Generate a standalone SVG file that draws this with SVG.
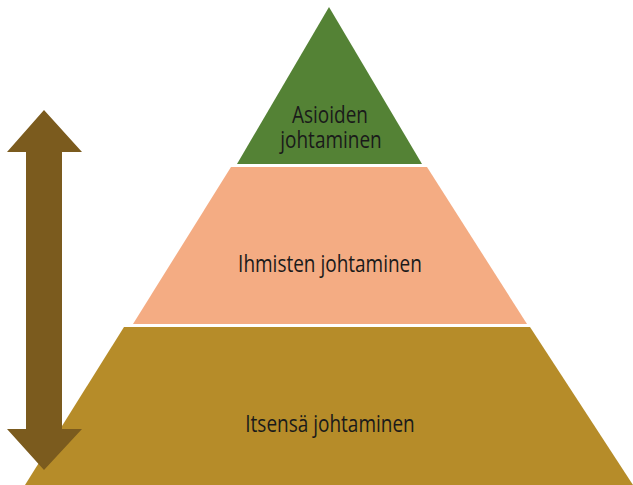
<svg xmlns="http://www.w3.org/2000/svg" width="633" height="485" viewBox="0 0 633 485">
  <style>
    .label { font-family: "Open Sans", "Liberation Sans", sans-serif; font-size: 19px; fill: #1a1a1a; text-anchor: middle; }
  </style>
  <rect width="633" height="485" fill="#ffffff"/>
  <!-- pyramid tiers; labels are stretched vertically for a tall, narrow look -->
  <g id="tier-top">
    <polygon points="329,7 422,164 237,164" fill="#548235"/>
    <text class="label" transform="translate(330,123) scale(1,1.2)">Asioiden</text>
    <text class="label" transform="translate(331,148) scale(1,1.2)">johtaminen</text>
  </g>
  <g id="tier-middle">
    <polygon points="231,167 427,167 527,324 133,324" fill="#f4ac83"/>
    <text class="label" transform="translate(330,272) scale(1,1.2)">Ihmisten johtaminen</text>
  </g>
  <g id="tier-bottom">
    <polygon points="124,327 530,327 633,485 25,485" fill="#b68c29"/>
    <text class="label" transform="translate(330,432) scale(1,1.2)">Itsensä johtaminen</text>
  </g>
  <!-- double-headed arrow -->
  <g id="connectors">
    <polygon points="44,110 82,152 62,152 62,429 82,429 44,470 7,429 26,429 26,152 7,152" fill="#7b5b1e"/>
  </g>
</svg>
